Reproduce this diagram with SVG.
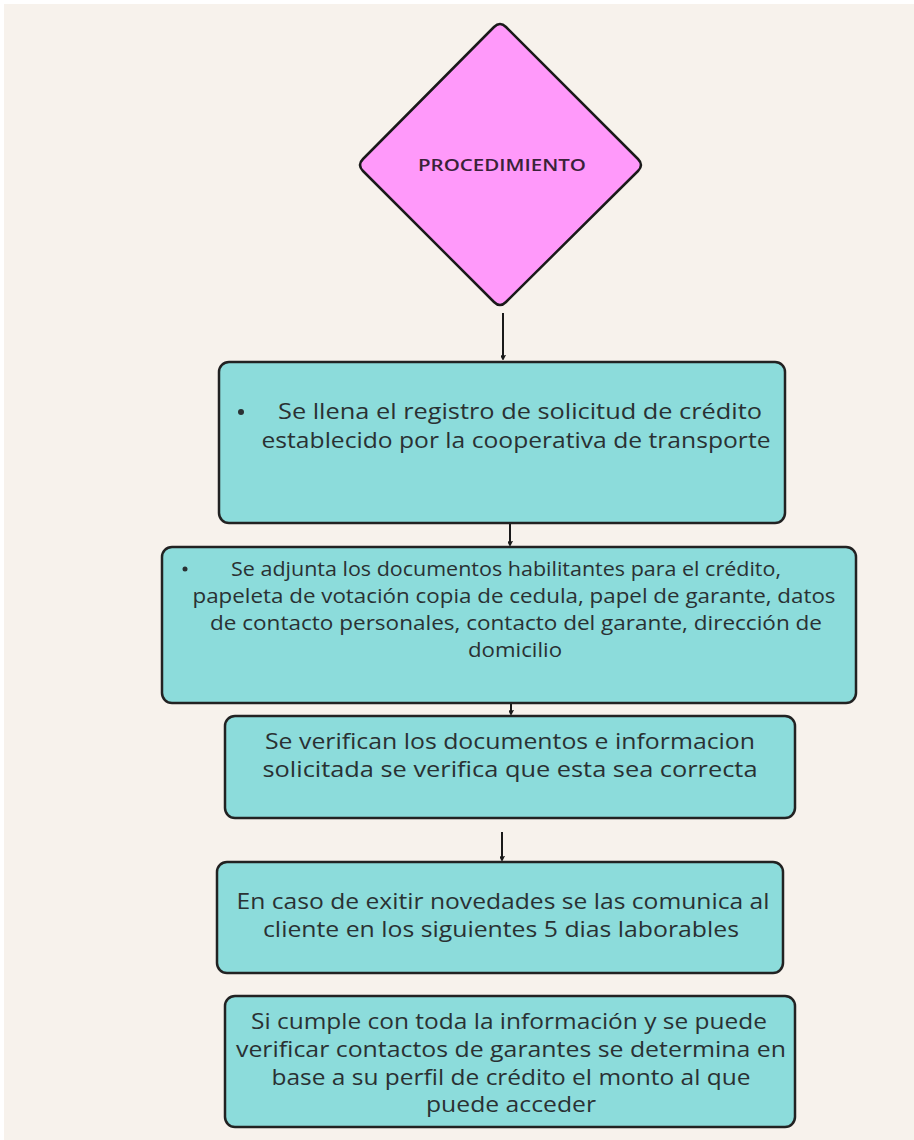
<svg xmlns="http://www.w3.org/2000/svg" width="914" height="1140" viewBox="0 0 914 1140">
  <defs>
    <style>
      .box { fill: #8cdcdb; stroke: #222; stroke-width: 2.5; }
      .dia { fill: #ff99fa; stroke: #1a1a1a; stroke-width: 2.5; stroke-linejoin: round; }
      .t { font-family: "Open Sans", "Liberation Sans", sans-serif; font-size: 21px; font-weight: 500; fill: #2a3133; text-anchor: middle; }
      .t2 { font-family: "Open Sans", "Liberation Sans", sans-serif; font-size: 20px; font-weight: 500; fill: #2a3133; text-anchor: middle; }
      .title { font-family: "Open Sans", "Liberation Sans", sans-serif; font-size: 16px; font-weight: 600; fill: #3a2238; text-anchor: middle; }
      .conn { stroke: #1a1a1a; stroke-width: 2; fill: none; }
    </style>
    <marker id="arr" viewBox="0 0 10 10" refX="9" refY="5" markerWidth="5" markerHeight="5" orient="auto" markerUnits="userSpaceOnUse">
      <path d="M0,0 L10,5 L0,10" fill="none" stroke="#1a1a1a" stroke-width="2.5"/>
    </marker>
  </defs>
  <rect x="0" y="0" width="914" height="1140" fill="#ffffff"/>
  <rect x="4" y="4" width="910" height="1136" fill="#f7f2ec"/>

  <g id="connectors">
    <line class="conn" x1="503" y1="313" x2="503" y2="359" marker-end="url(#arr)"/>
    <line class="conn" x1="510" y1="523" x2="510" y2="545" marker-end="url(#arr)"/>
    <line class="conn" x1="511" y1="703" x2="511" y2="714" marker-end="url(#arr)"/>
    <line class="conn" x1="502" y1="832" x2="502" y2="860" marker-end="url(#arr)"/>
  </g>

  <g id="node-procedimiento">
    <path class="dia" d="M494,27 Q500,21 506,27 L638,159 Q644,165 638,171 L506,302 Q500,308 494,302 L363,171 Q357,165 363,159 Z"/>
    <text class="title" x="502" y="171" textLength="168" lengthAdjust="spacingAndGlyphs">PROCEDIMIENTO</text>
  </g>

  <g id="node-registro">
    <rect class="box" x="219" y="362" width="566" height="161" rx="10"/>
    <circle cx="241" cy="412" r="3" fill="#2a3133"/>
    <text class="t" x="520" y="419" textLength="484" lengthAdjust="spacingAndGlyphs">Se llena el registro de solicitud de crédito</text>
    <text class="t" x="516" y="448" textLength="509" lengthAdjust="spacingAndGlyphs">establecido por la cooperativa de transporte</text>
  </g>

  <g id="node-documentos">
    <rect class="box" x="162" y="547" width="694" height="156" rx="10"/>
    <circle cx="185" cy="569" r="2.5" fill="#2a3133"/>
    <text class="t2" x="506" y="576" textLength="550" lengthAdjust="spacingAndGlyphs">Se adjunta los documentos habilitantes para el crédito,</text>
    <text class="t2" x="514" y="603" textLength="643" lengthAdjust="spacingAndGlyphs">papeleta de votación copia de cedula, papel de garante, datos</text>
    <text class="t2" x="516" y="630" textLength="612" lengthAdjust="spacingAndGlyphs">de contacto personales, contacto del garante, dirección de</text>
    <text class="t2" x="515" y="657" textLength="94" lengthAdjust="spacingAndGlyphs">domicilio</text>
  </g>

  <g id="node-verifican">
    <rect class="box" x="225" y="716" width="570" height="102" rx="10"/>
    <text class="t" x="510" y="749" textLength="490" lengthAdjust="spacingAndGlyphs">Se verifican los documentos e informacion</text>
    <text class="t" x="510" y="777" textLength="495" lengthAdjust="spacingAndGlyphs">solicitada se verifica que esta sea correcta</text>
  </g>

  <g id="node-novedades">
    <rect class="box" x="217" y="862" width="566" height="111" rx="10"/>
    <text class="t" x="503" y="909" textLength="533" lengthAdjust="spacingAndGlyphs">En caso de exitir novedades se las comunica al</text>
    <text class="t" x="501" y="937" textLength="476" lengthAdjust="spacingAndGlyphs">cliente en los siguientes 5 dias laborables</text>
  </g>

  <g id="node-cumple">
    <rect class="box" x="225" y="996" width="570" height="131" rx="10"/>
    <text class="t" x="509" y="1029" textLength="516" lengthAdjust="spacingAndGlyphs">Si cumple con toda la información y se puede</text>
    <text class="t" x="511" y="1057" textLength="550" lengthAdjust="spacingAndGlyphs">verificar contactos de garantes se determina en</text>
    <text class="t" x="511" y="1085" textLength="479" lengthAdjust="spacingAndGlyphs">base a su perfil de crédito el monto al que</text>
    <text class="t" x="511" y="1112" textLength="170" lengthAdjust="spacingAndGlyphs">puede acceder</text>
  </g>
</svg>
